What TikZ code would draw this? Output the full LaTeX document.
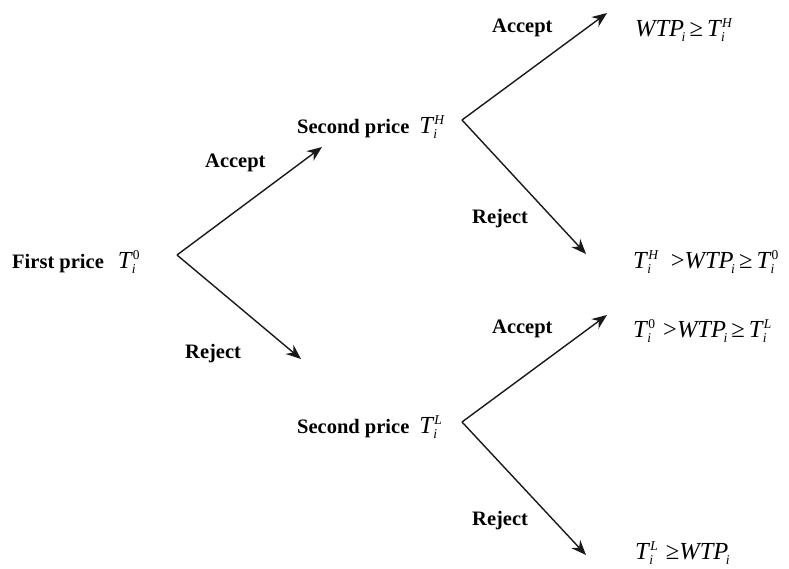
\documentclass[tikz,border=0pt]{standalone}
\usepackage{fontspec}
\setmainfont{Liberation Serif}
\usetikzlibrary{arrows.meta}
\newcommand\scr[1]{{\fontsize{13.5}{14}\selectfont #1}}
\newcommand\supsub[2]{%
  \setbox0\hbox{\kern1pt\raisebox{8.5pt}{\scr{#1}}}%
  \setbox2\hbox{\raisebox{-5.5pt}{\scr{\itshape #2}}}%
  \ifdim\wd0>\wd2 \rlap{\box2}\box0\else\rlap{\box0}\box2\fi}
\newcommand\Tx[1]{\textit{T}\kern-1pt\supsub{#1}{i}}
\newcommand\WTPi{\textit{WTP}\kern-2.5pt\raisebox{-5.5pt}{\scr{\itshape i}}}
\begin{document}
\begin{tikzpicture}[x=1pt,y=-1pt,
  lbl/.style={font=\fontsize{20.5}{22}\selectfont\bfseries, anchor=base west, inner sep=0pt},
  mth/.style={font=\fontsize{24.5}{26}\selectfont, anchor=base west, inner sep=0pt},
  arr/.style={-{Stealth[length=15pt,width=12pt]}, line width=1.4pt, black!90}]
\useasboundingbox (0,0) rectangle (789,568);
% stage nodes
\node[lbl] (FP) at (12,268) {First price\hspace{14pt}\mbox{\fontsize{24.5}{26}\selectfont\mdseries\Tx{0}}};
\node[lbl] (SH) at (297,133) {Second price\hspace{10pt}\mbox{\fontsize{24.5}{26}\selectfont\mdseries\Tx{\textit{H}}}};
\node[lbl] (SL) at (297,433) {Second price\hspace{10pt}\mbox{\fontsize{24.5}{26}\selectfont\mdseries\Tx{\textit{L}}}};
% outcomes
\node[mth] (O1) at (635,36) {\WTPi\,≥\,\Tx{\textit{H}}};
\node[mth] (O2) at (633,268) {\Tx{\textit{H}}\ \ >\WTPi\,≥\,\Tx{0}};
\node[mth] (O3) at (633,337) {\Tx{0}\,\,>\WTPi\,≥\,\Tx{\textit{L}}};
\node[mth] (O4) at (635,559) {\Tx{\textit{L}}\,\,≥\WTPi};
% branch points and arrow tips
\coordinate (b0) at (177,255);
\coordinate (bH) at (462,120);
\coordinate (bL) at (462,422);
\coordinate (t1) at (322,147);
\coordinate (t2) at (301,359);
\coordinate (t3) at (607,13);
\coordinate (t4) at (586,254);
\coordinate (t5) at (607,315);
\coordinate (t6) at (586,555);
\draw[arr] (b0) -- (t1);
\draw[arr] (b0) -- (t2);
\draw[arr] (bH) -- (t3);
\draw[arr] (bH) -- (t4);
\draw[arr] (bL) -- (t5);
\draw[arr] (bL) -- (t6);
% branch labels
\node[lbl] (a1) at (205,167) {Accept};
\node[lbl] (r1) at (185,358) {Reject};
\node[lbl] (a2) at (492,32) {Accept};
\node[lbl] (r2) at (472,223) {Reject};
\node[lbl] (a3) at (492,333) {Accept};
\node[lbl] (r3) at (472,525) {Reject};
\end{tikzpicture}
\end{document}
